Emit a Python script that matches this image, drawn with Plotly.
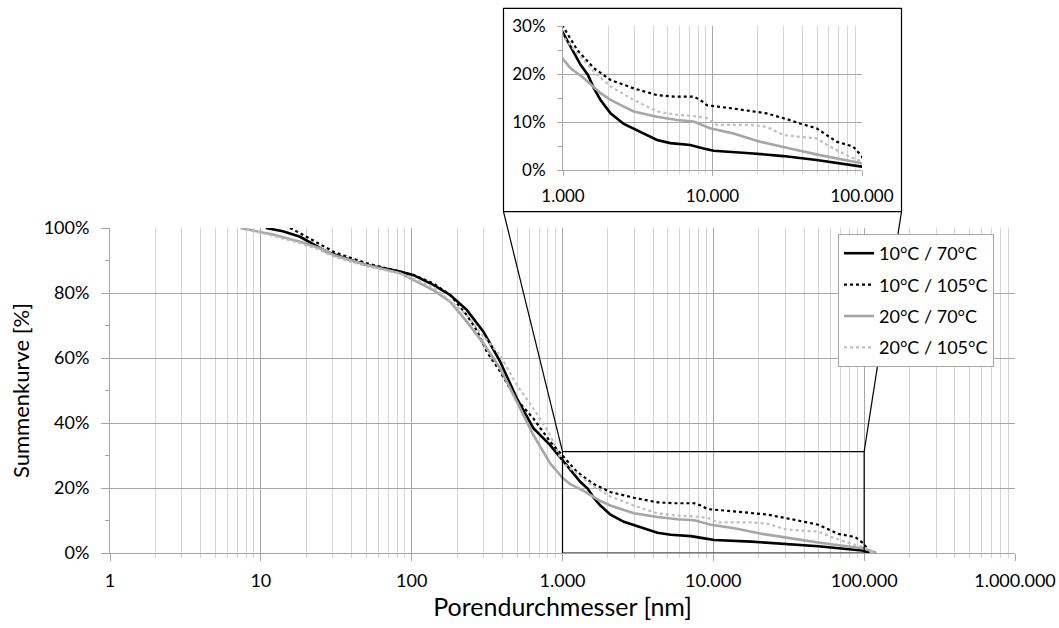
import plotly.graph_objects as go

# ---------------- data ----------------
series_names = ["10°C / 70°C", "10°C / 105°C", "20°C / 70°C", "20°C / 105°C"]

x_10_70 = [10.8, 14, 18.2, 27.3, 39, 50.4, 83.8, 103, 139, 180, 232, 299, 386, 498, 641, 828,
           1000, 1154, 1311, 1468, 1610, 1783, 2080, 2552, 3467, 4256, 5224, 7096, 8710, 10160,
           17830, 29720, 49630, 100000, 108000]
y_10_70 = [100, 99, 97.3, 92.7, 90.2, 88.6, 86.6, 85.5, 82.5, 79.4, 74.8, 68.1, 58.9, 47.6, 38.4, 33.2,
           28.6, 25, 21.9, 19.8, 17, 14.6, 11.8, 9.6, 7.6, 6.25, 5.6, 5.2, 4.5, 4.0,
           3.5, 2.9, 2.1, 0.7, 0]

x_10_105 = [15.6, 18.2, 30.3, 50.4, 83.8, 103, 139, 180, 232, 270, 315, 386, 498, 641, 828,
            1000, 1246, 1610, 2080, 2975, 4256, 5500, 7470, 8280, 9170, 13800, 23000, 32940, 38400,
            49630, 67500, 87100, 100000, 108000]
y_10_105 = [100, 98.4, 92.7, 89.1, 86.6, 85.5, 83, 79.4, 73.2, 68.6, 61.9, 55.8, 47.1, 41.4, 34.3,
            29.9, 25, 21.2, 18.75, 17, 15.6, 15.3, 15.3, 14.6, 13.5, 12.8, 11.8, 10.4, 9.7,
            8.7, 5.9, 4.9, 2.8, 0]

x_20_70 = [7.3, 12, 18.2, 24.7, 30.3, 50.4, 83.8, 139, 180, 232, 299, 386, 498, 641, 828,
           1000, 1125, 1380, 1783, 2080, 2552, 2975, 4256, 5780, 7470, 9640, 13800, 20800, 32940,
           52200, 100000, 121000]
y_20_70 = [100, 98, 95.8, 93.75, 91.7, 88.6, 86.1, 80.9, 77.3, 71.2, 64.5, 56.8, 46.6, 36.3, 27.6,
           23.1, 21.2, 19.1, 16, 14.6, 13.2, 12.2, 11.1, 10.4, 10.1, 8.7, 7.6, 5.9, 4.5,
           3.1, 1.4, 0]

x_20_105 = [7.3, 12, 18.2, 24.7, 30.3, 50.4, 83.8, 139, 232, 299, 386, 498, 641, 828,
            1000, 1246, 1610, 2080, 2975, 4256, 5780, 7470, 9170, 10690, 17830, 23000, 29720,
            38400, 49630, 60800, 78700, 100000, 115000]
y_20_105 = [100, 97.6, 95.3, 93.2, 91.2, 88.2, 86, 81.9, 73.2, 66.6, 60.9, 51.7, 44.5, 36.3,
            27.8, 24.3, 20.5, 17.4, 14.6, 12.2, 11.5, 11.25, 10.8, 9.4, 9.4, 9.0, 7.3,
            6.9, 6.6, 4.9, 3.1, 1.7, 0]

main_xticks = [1, 10, 100, 1000, 10000, 100000, 1000000]
main_xticktext = ["1", "10", "100", "1.000", "10.000", "100.000", "1.000.000"]
main_yticks = [0, 20, 40, 60, 80, 100]
main_yticktext = ["0%", "20%", "40%", "60%", "80%", "100%"]
inset_xticks = [1000, 10000, 100000]
inset_xticktext = ["1.000", "10.000", "100.000"]
inset_yticks = [0, 10, 20, 30]
inset_yticktext = ["0%", "10%", "20%", "30%"]
zoom_x = [1000, 100000]
zoom_ymax = 31.2

# ---------------- styling ----------------
FONT = "Lato"
styles = [
    dict(color="#000000", width=2.6, dash="solid"),
    dict(color="#000000", width=2.2, dash="dot"),
    dict(color="#a6a6a6", width=2.6, dash="solid"),
    dict(color="#bfbfbf", width=2.2, dash="dot"),
]
data_sets = [(x_10_70, y_10_70), (x_10_105, y_10_105), (x_20_70, y_20_70), (x_20_105, y_20_105)]

GRID_MAJOR = "#a6a6a6"
GRID_MINOR = "#d4d4d4"

def minor_log(lo, hi):
    vals = []
    d = lo
    while d < hi:
        vals += [k * d for k in range(2, 10)]
        d *= 10
    return vals

fig = go.Figure()

for (xs, ys), name, st in zip(data_sets, series_names, styles):
    fig.add_trace(go.Scatter(x=xs, y=ys, mode="lines", name=name, line=st,
                             xaxis="x", yaxis="y", legendgroup=name))
for (xs, ys), name, st in zip(data_sets, series_names, styles):
    fig.add_trace(go.Scatter(x=xs, y=ys, mode="lines", name=name, line=st,
                             xaxis="x2", yaxis="y2", showlegend=False, legendgroup=name))

# geometry (pixels -> paper)
W, H = 1059, 628
ML, MR, MT, MB = 110, 44, 5, 75
PW = W - ML - MR
PH = H - MT - MB
def px2x(px):
    return (px - ML) / PW
def py2y(py):
    return (H - MB - py) / PH

main_top = py2y(228)
inset_dom_x = [px2x(563), px2x(862)]
inset_dom_y = [py2y(170), py2y(26)]

fig.update_layout(
    width=W, height=H,
    margin=dict(l=ML, r=MR, t=MT, b=MB, autoexpand=False),
    paper_bgcolor="white", plot_bgcolor="white",
    font=dict(family=FONT, color="#000000", size=18),
    showlegend=True,
    legend=dict(x=px2x(838), y=py2y(234), xanchor="left", yanchor="top",
                bgcolor="white", bordercolor="#a6a6a6", borderwidth=1,
                font=dict(family=FONT, size=18), itemwidth=30, tracegroupgap=5,
                traceorder="grouped"),
    xaxis=dict(type="log", range=[0, 6], domain=[0, 1], anchor="y", automargin=False,
               tickmode="array", tickvals=main_xticks, ticktext=main_xticktext,
               showgrid=True, gridcolor=GRID_MAJOR, gridwidth=1,
               ticks="outside", ticklen=7, tickcolor=GRID_MAJOR,
               showline=True, linecolor=GRID_MAJOR, linewidth=1, zeroline=False,
               tickfont=dict(size=18), ticklabelstandoff=4,
               minor=dict(tickvals=minor_log(1, 1000000), showgrid=True, gridcolor=GRID_MINOR,
                          gridwidth=1, ticks="outside", ticklen=4, tickcolor=GRID_MINOR),
               title=dict(text="Porendurchmesser [nm]", font=dict(size=25), standoff=3)),
    yaxis=dict(range=[0, 100], domain=[0, main_top], anchor="x", automargin=False,
               tickmode="array", tickvals=main_yticks, ticktext=main_yticktext,
               showgrid=True, gridcolor=GRID_MAJOR, gridwidth=1,
               ticks="outside", ticklen=8, tickcolor=GRID_MAJOR,
               showline=True, linecolor=GRID_MAJOR, linewidth=1, zeroline=False,
               tickfont=dict(size=18), ticklabelstandoff=8,
               minor=dict(tickvals=[10, 30, 50, 70, 90], ticks="outside", ticklen=4,
                          tickcolor=GRID_MAJOR, showgrid=False),
               title=dict(text="Summenkurve [%]", font=dict(size=22), standoff=7)),
    xaxis2=dict(type="log", range=[3, 5], domain=inset_dom_x, anchor="y2", automargin=False,
                tickmode="array", tickvals=inset_xticks, ticktext=inset_xticktext,
                showgrid=True, gridcolor=GRID_MAJOR, gridwidth=1,
                ticks="outside", ticklen=5, tickcolor=GRID_MAJOR,
                showline=True, linecolor=GRID_MAJOR, linewidth=1, zeroline=False,
                tickfont=dict(size=17), ticklabelstandoff=6,
                minor=dict(tickvals=minor_log(1000, 100000), showgrid=True, gridcolor=GRID_MINOR,
                           gridwidth=1, ticks="outside", ticklen=3, tickcolor=GRID_MINOR)),
    yaxis2=dict(range=[0, 30], domain=inset_dom_y, anchor="x2", automargin=False,
                tickmode="array", tickvals=inset_yticks, ticktext=inset_yticktext,
                showgrid=True, gridcolor=GRID_MAJOR, gridwidth=1,
                ticks="outside", ticklen=5, tickcolor=GRID_MAJOR,
                showline=True, linecolor=GRID_MAJOR, linewidth=1, zeroline=False,
                tickfont=dict(size=17), ticklabelstandoff=8,
                minor=dict(tickvals=[5, 15, 25], ticks="outside", ticklen=4,
                           tickcolor=GRID_MAJOR, showgrid=False)),
)

# inset frame
fx0, fx1 = px2x(503.5), px2x(901.5)
fy0, fy1 = py2y(211.7), py2y(8.3)
fig.add_shape(type="rect", xref="paper", yref="paper", x0=fx0, x1=fx1, y0=fy0, y1=fy1,
              line=dict(color="#000000", width=1.2), layer="above")
# zoom rectangle on main chart
fig.add_shape(type="rect", xref="x", yref="y", x0=zoom_x[0], x1=zoom_x[1], y0=0, y1=zoom_ymax,
              line=dict(color="#000000", width=1.2), layer="above")
# connector lines
zy_paper = zoom_ymax / 100 * main_top
fig.add_shape(type="line", xref="paper", yref="paper", x0=0.5, y0=zy_paper, x1=fx0, y1=fy0,
              line=dict(color="#000000", width=1.2))
fig.add_shape(type="line", xref="paper", yref="paper", x0=5 / 6, y0=zy_paper, x1=fx1, y1=fy0,
              line=dict(color="#000000", width=1.2))

fig.write_html("out.html")
